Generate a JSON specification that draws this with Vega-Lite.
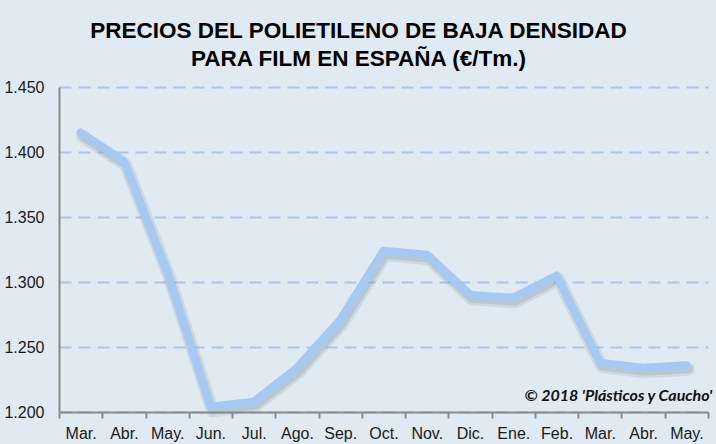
{
  "$schema": "https://vega.github.io/schema/vega-lite/v6.json",
  "width": 649,
  "height": 325,
  "autosize": {"type": "none"},
  "padding": {"left": 59, "top": 87, "right": 8, "bottom": 32},
  "background": "#dfeaf2",
  "title": {
    "text": ["PRECIOS DEL POLIETILENO DE BAJA DENSIDAD", "PARA FILM EN ESPAÑA (€/Tm.)"],
    "font": "Liberation Sans",
    "fontSize": 22.5,
    "fontWeight": "bold",
    "color": "#000000",
    "anchor": "middle",
    "dx": -25,
    "offset": 9,
    "lineHeight": 28
  },
  "config": {
    "view": {"stroke": null},
    "axis": {
      "labelFont": "Liberation Sans",
      "labelFontSize": 16,
      "labelColor": "#1a1a1a",
      "domainColor": "#8a8a8a",
      "domainWidth": 2,
      "tickColor": "#8a8a8a",
      "tickWidth": 2
    }
  },
  "data": {
    "values": [
      {"orden": 1, "clave": "Mar.|2017", "precio": 1415},
      {"orden": 2, "clave": "Abr.|2017", "precio": 1393},
      {"orden": 3, "clave": "May.|2017", "precio": 1307},
      {"orden": 4, "clave": "Jun.|2017", "precio": 1204},
      {"orden": 5, "clave": "Jul.|2017", "precio": 1208},
      {"orden": 6, "clave": "Ago.|2017", "precio": 1234},
      {"orden": 7, "clave": "Sep.|2017", "precio": 1271},
      {"orden": 8, "clave": "Oct.|2017", "precio": 1324},
      {"orden": 9, "clave": "Nov.|2017", "precio": 1321},
      {"orden": 10, "clave": "Dic.|2017", "precio": 1290},
      {"orden": 11, "clave": "Ene.|2018", "precio": 1288},
      {"orden": 12, "clave": "Feb.|2018", "precio": 1305},
      {"orden": 13, "clave": "Mar.|2018", "precio": 1238},
      {"orden": 14, "clave": "Abr.|2018", "precio": 1234},
      {"orden": 15, "clave": "May.|2018", "precio": 1236}
    ]
  },
  "encoding": {
    "x": {
      "field": "clave",
      "type": "ordinal",
      "sort": {"field": "orden"},
      "bandPosition": 0.5,
      "scale": {"type": "band", "paddingInner": 0, "paddingOuter": 0},
      "axis": {
        "title": null,
        "labelAngle": 0,
        "labelExpr": "split(datum.label, '|')[0]",
        "tickBand": "extent",
        "tickSize": 6,
        "labelPadding": 7,
        "grid": false
      }
    },
    "y": {
      "field": "precio",
      "type": "quantitative",
      "scale": {"domain": [1200, 1450], "nice": false, "zero": false},
      "axis": {
        "title": null,
        "values": [1200, 1250, 1300, 1350, 1400, 1450],
        "labelExpr": "replace(format(datum.value, ',.0f'), ',', '.')",
        "ticks": false,
        "labelPadding": 15,
        "grid": true,
        "gridColor": "#a9c5ec",
        "gridWidth": 2,
        "gridDash": [12, 7]
      }
    }
  },
  "layer": [
    {
      "mark": {
        "type": "line",
        "color": "#7a8e9c",
        "opacity": 0.18,
        "strokeWidth": 13,
        "strokeJoin": "round",
        "strokeCap": "round",
        "xOffset": 2,
        "yOffset": 4
      }
    },
    {
      "mark": {
        "type": "line",
        "color": "#7a8e9c",
        "opacity": 0.25,
        "strokeWidth": 8,
        "strokeJoin": "round",
        "strokeCap": "round",
        "xOffset": 2,
        "yOffset": 4
      }
    },
    {
      "mark": {
        "type": "line",
        "color": "#a6c9f4",
        "strokeWidth": 8,
        "strokeJoin": "round",
        "strokeCap": "round"
      }
    },
    {
      "transform": [{"filter": "datum.orden == 15"}],
      "mark": {
        "type": "text",
        "font": "Lato",
        "fontSize": 16,
        "fontWeight": "bold",
        "fontStyle": "italic",
        "color": "#111111",
        "align": "right",
        "baseline": "middle",
        "dx": 26
      },
      "encoding": {
        "y": {"datum": 1212},
        "text": {"value": "© 2018 'Plásticos y Caucho'"}
      }
    }
  ]
}
